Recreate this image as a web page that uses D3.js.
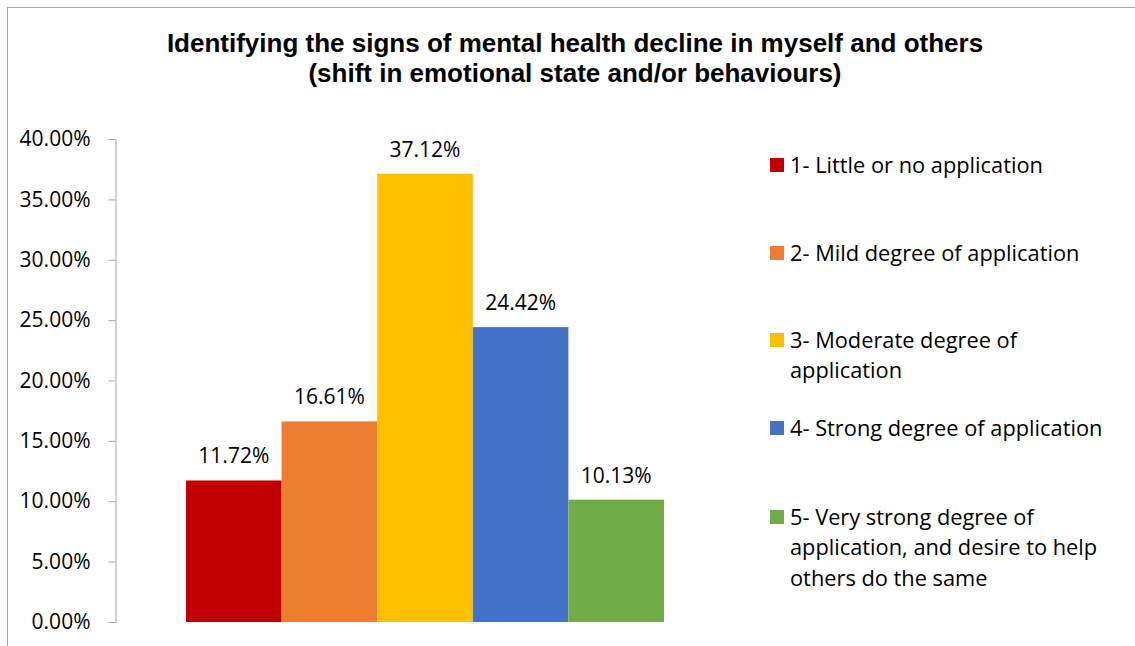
<!DOCTYPE html>
<html>
<head>
<meta charset="utf-8">
<script src="https://cdn.jsdelivr.net/npm/d3@7"></script>
<style>
  html, body { margin: 0; padding: 0; background: #fff; }
  svg { display: block; }
  .tick text { font-family: "Open Sans", sans-serif; }
</style>
</head>
<body>
<svg id="chart" width="1135" height="646"></svg>
<script>
// Survey responses: share of respondents per rating level
const categories = [
  "1- Little or no application",
  "2- Mild degree of application",
  "3- Moderate degree of application",
  "4- Strong degree of application",
  "5- Very strong degree of application, and desire to help others do the same"
];
const legendLines = [
  ["1- Little or no application"],
  ["2- Mild degree of application"],
  ["3- Moderate degree of", "application"],
  ["4- Strong degree of application"],
  ["5- Very strong degree of", "application, and desire to help", "others do the same"]
];
const values = [11.72, 16.61, 37.12, 24.42, 10.13];
const colors = ["#c00000", "#ed7d31", "#ffc000", "#4472c4", "#70ad47"];
const yTicks = [0, 5, 10, 15, 20, 25, 30, 35, 40];
const titleLines = [
  "Identifying the signs of mental health decline in myself and others",
  "(shift in emotional state and/or behaviours)"
];

const svg = d3.select("#chart");
const W = 1135, H = 646;

// outer chart frame
svg.append("rect")
  .attr("x", 7.5).attr("y", 7.5)
  .attr("width", W + 20).attr("height", H + 20)
  .attr("fill", "#fff").attr("stroke", "#a6a6a6").attr("stroke-width", 1);

// title
svg.append("g").selectAll("text").data(titleLines).join("text")
  .attr("x", 575)
  .attr("y", (d, i) => 52 + i * 30)
  .attr("text-anchor", "middle")
  .attr("font-family", "Liberation Sans, Arial, sans-serif")
  .attr("font-weight", "bold")
  .attr("font-size", 26)
  .attr("fill", "#000")
  .text(d => d);

const plot = { left: 115, right: 735, top: 139, bottom: 622 };

const y = d3.scaleLinear().domain([0, 40]).range([plot.bottom, plot.top]);

// the five bars sit side by side in one cluster centred in the plot
const clusterWidth = 478;
const mid = (plot.left + plot.right) / 2;
const xc = d3.scaleBand().domain(categories)
  .range([mid - clusterWidth / 2, mid + clusterWidth / 2])
  .padding(0);

// y axis
const yAxis = d3.axisLeft(y)
  .tickValues(yTicks)
  .tickSize(7)
  .tickPadding(18)
  .tickFormat(d => d.toFixed(2) + "%");

const gy = svg.append("g")
  .attr("transform", `translate(${plot.left + 0.5},0)`)
  .call(yAxis);
gy.select(".domain").attr("stroke", "#a6a6a6");
gy.selectAll(".tick line").attr("stroke", "#a6a6a6");
gy.selectAll(".tick text")
  .attr("font-size", 21)
  .attr("fill", "#000");

// bars
svg.append("g").selectAll("rect").data(values).join("rect")
  .attr("x", (d, i) => xc(categories[i]))
  .attr("y", d => y(d))
  .attr("width", xc.bandwidth())
  .attr("height", d => y(0) - y(d))
  .attr("fill", (d, i) => colors[i]);

// value labels
svg.append("g").selectAll("text").data(values).join("text")
  .attr("x", (d, i) => xc(categories[i]) + xc.bandwidth() / 2)
  .attr("y", d => y(d) - 17)
  .attr("text-anchor", "middle")
  .attr("font-family", "Open Sans, sans-serif")
  .attr("font-size", 21)
  .attr("fill", "#000")
  .text(d => d.toFixed(2) + "%");

// legend
const legendY = [165, 253, 340, 428, 517];
const lg = svg.append("g");
legendLines.forEach((lines, i) => {
  const g = lg.append("g").attr("transform", `translate(770,${legendY[i]})`);
  g.append("rect").attr("x", 0).attr("y", -7).attr("width", 14).attr("height", 14)
    .attr("fill", colors[i]);
  g.selectAll("text").data(lines).join("text")
    .attr("x", 20)
    .attr("y", (d, j) => j * 30.5 + 7.5)
    .attr("font-family", "Open Sans, sans-serif")
    .attr("font-size", 21.8)
    .attr("fill", "#000")
    .text(d => d);
});
</script>
</body>
</html>
